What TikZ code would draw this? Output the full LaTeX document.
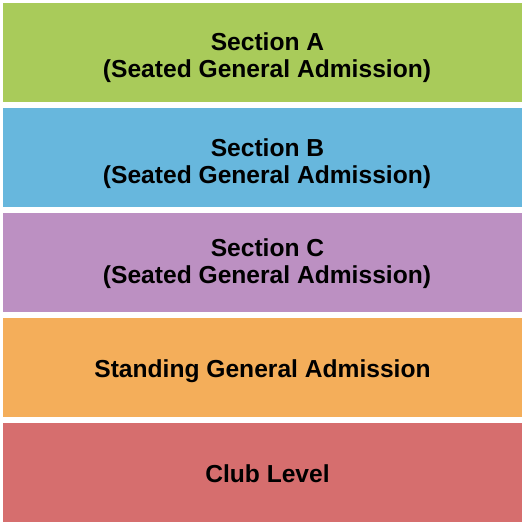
\documentclass[tikz,border=0pt]{standalone}
\usepackage{fontspec}
\setmainfont{Liberation Sans}
\definecolor{cA}{RGB}{169,203,90}
\definecolor{cB}{RGB}{103,183,221}
\definecolor{cC}{RGB}{188,144,194}
\definecolor{cD}{RGB}{244,174,90}
\definecolor{cE}{RGB}{214,110,110}
\tikzset{
  band/.style={draw=none, minimum width=519pt, minimum height=99pt, inner sep=0pt, anchor=north west},
  lbl/.style={anchor=base, inner sep=0pt, font=\fontsize{24.6}{27}\selectfont\bfseries, text=black}
}
\begin{document}
\begin{tikzpicture}[x=1pt,y=-1pt]
\useasboundingbox (0,0) rectangle (525,525);
\node[band, fill=cA] (a) at (3,3) {};
\node[band, fill=cB] (b) at (3,108) {};
\node[band, fill=cC] (c) at (3,213) {};
\node[band, fill=cD] (d) at (3,318) {};
\node[band, fill=cE] (e) at (3,423) {};
\node[lbl] (a1) at (267.5,50) {Section A};
\node[lbl] (a2) at (267,77) {(Seated General Admission)};
\node[lbl] (b1) at (267.5,156) {Section B};
\node[lbl] (b2) at (267,183) {(Seated General Admission)};
\node[lbl] (c1) at (267.5,256) {Section C};
\node[lbl] (c2) at (267,283) {(Seated General Admission)};
\node[lbl] (d1) at (262.5,377) {Standing General Admission};
\node[lbl] (e1) at (267.5,482) {Club Level};
\end{tikzpicture}
\end{document}
